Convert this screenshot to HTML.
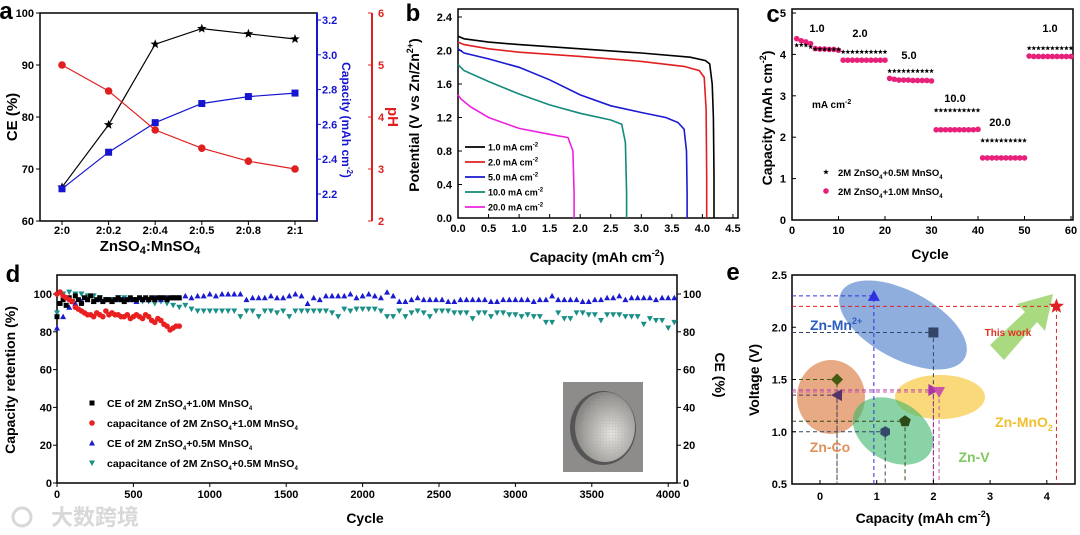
<!DOCTYPE html>
<html><head><meta charset="utf-8"><style>
html,body{margin:0;padding:0;background:#fff;}
svg{display:block;font-family:"Liberation Sans","Noto Sans CJK SC",sans-serif;font-weight:bold;}
</style></head><body>
<svg id="fig" width="1080" height="535" viewBox="0 0 1080 535" xmlns="http://www.w3.org/2000/svg">
<defs>
<radialGradient id="coinG" cx="0.6" cy="0.6" r="0.6"><stop offset="0" stop-color="#e8e6e2"/><stop offset="1" stop-color="#8a8884"/></radialGradient>
<pattern id="grid" width="3" height="3" patternUnits="userSpaceOnUse"><rect width="3" height="3" fill="none"/><path d="M0 0H3M0 0V3" stroke="#aaa" stroke-width="0.5"/></pattern>
</defs>
</svg>
<script>
// ---------- Panel a data ----------
const aCategories=["2:0","2:0.2","2:0.4","2:0.5","2:0.8","2:1"];
const aCE=[66.5,78.5,94,97,96,95];
const aCapacity=[2.23,2.44,2.61,2.72,2.76,2.78];
const aPH=[5.0,4.5,3.75,3.4,3.15,3.0];
const aCETicks=[60,70,80,90,100];
const aCapTicks=["2.2","2.4","2.6","2.8","3.0","3.2"];
const aPHTicks=[2,3,4,5,6];
// ---------- Panel b data ----------
const bLabels=["1.0 mA cm","2.0 mA cm","5.0 mA cm","10.0 mA cm","20.0 mA cm"];
const bCap1=[0,0.1,0.5,1.0,2.0,3.0,3.8,4.05,4.12,4.16,4.18,4.19,4.19];
const bV1=[2.17,2.14,2.1,2.07,2.02,1.97,1.92,1.88,1.84,1.6,1.2,0.5,0];
const bCap2=[0,0.1,0.5,1.0,2.0,3.0,3.7,3.95,4.03,4.06,4.07,4.07];
const bV2=[2.1,2.07,2.02,1.98,1.93,1.87,1.81,1.76,1.68,1.3,0.5,0];
const bCap5=[0,0.1,0.5,1.0,1.5,2.0,2.5,3.0,3.4,3.6,3.7,3.74,3.75,3.75];
const bV5=[2.02,1.97,1.9,1.8,1.65,1.47,1.34,1.26,1.2,1.14,1.06,0.8,0.3,0];
const bCap10=[0,0.1,0.5,1.0,1.5,2.0,2.5,2.68,2.74,2.76,2.76];
const bV10=[1.83,1.76,1.63,1.48,1.35,1.25,1.17,1.12,0.9,0.3,0];
const bCap20=[0,0.05,0.2,0.5,1.0,1.5,1.8,1.88,1.9,1.9];
const bV20=[1.47,1.42,1.33,1.2,1.07,1.0,0.96,0.8,0.3,0];
const bXTicks=["0.0","0.5","1.0","1.5","2.0","2.5","3.0","3.5","4.0","4.5"];
const bYTicks=["0.0","0.4","0.8","1.2","1.6","2.0","2.4"];
// ---------- Panel c data ----------
const cCycles=[1,2,3,4,5,6,7,8,9,10,11,12,13,14,15,16,17,18,19,20,21,22,23,24,25,26,27,28,29,30,31,32,33,34,35,36,37,38,39,40,41,42,43,44,45,46,47,48,49,50,51,52,53,54,55,56,57,58,59,60];
const cStar=[4.22,4.23,4.22,4.18,4.13,4.13,4.12,4.12,4.12,4.12,4.06,4.06,4.06,4.06,4.06,4.06,4.06,4.06,4.06,4.06,3.6,3.6,3.6,3.6,3.6,3.6,3.6,3.6,3.6,3.6,2.65,2.65,2.65,2.65,2.65,2.65,2.65,2.65,2.65,2.65,1.92,1.92,1.92,1.92,1.92,1.92,1.92,1.92,1.92,1.92,4.15,4.15,4.15,4.15,4.15,4.15,4.15,4.15,4.15,4.15];
const cPink=[4.38,4.33,4.3,4.26,4.14,4.13,4.13,4.12,4.12,4.1,3.86,3.86,3.86,3.86,3.86,3.86,3.86,3.86,3.86,3.86,3.42,3.4,3.38,3.38,3.38,3.37,3.37,3.37,3.37,3.36,2.18,2.18,2.18,2.18,2.18,2.18,2.18,2.18,2.18,2.19,1.5,1.5,1.5,1.5,1.5,1.5,1.5,1.5,1.5,1.5,3.96,3.95,3.95,3.95,3.95,3.95,3.95,3.95,3.95,3.95];
const cRateLabels=["1.0","2.0","5.0","10.0","20.0","1.0"];
const cXTicks=[0,10,20,30,40,50,60];
const cYTicks=[0,1,2,3,4,5];
// ---------- Panel d data ----------
const dBlackCycles=[0,20,40,60,80,100,120,140,160,180,200,220,240,260,280,300,320,340,360,380,400,420,440,460,480,500,520,540,560,580,600,620,640,660,680,700,720,740,760,780,800];
const dBlack=[88,95,97,94,98,96,99,97,95,98,97,99,96,97,98,96,97,97,96,97,98,97,96,97,98,97,97,98,97,98,97,98,97,98,98,98,97,98,98,98,98];
const dRed=[100,101,99,98,97,96,93,92,91,90,89,89,88,90,89,88,91,89,90,89,89,88,88,89,87,88,89,88,87,89,88,86,85,87,86,84,83,81,82,83,83];
const dBlueCycles=[0,40,80,120,160,200,240,280,320,360,400,440,480,520,560,600,640,680,720,760,800,840,880,920,960,1000,1040,1080,1120,1160,1200,1240,1280,1320,1360,1400,1440,1480,1520,1560,1600,1640,1680,1720,1760,1800,1840,1880,1920,1960,2000,2040,2080,2120,2160,2200,2240,2280,2320,2360,2400,2440,2480,2520,2560,2600,2640,2680,2720,2760,2800,2840,2880,2920,2960,3000,3040,3080,3120,3160,3200,3240,3280,3320,3360,3400,3440,3480,3520,3560,3600,3640,3680,3720,3760,3800,3840,3880,3920,3960,4000,4040];
const dBlue=[82,88,93,95,96,97,96,97,97,96,97,97,97,96,97,97,98,97,98,98,98,99,98,99,99,100,99,100,100,100,100,97,98,98,98,99,98,98,99,100,99,95,98,97,99,99,99,99,100,98,99,100,99,98,101,99,96,96,97,98,97,97,97,97,96,96,97,97,97,97,97,96,96,97,97,97,97,97,96,97,97,99,97,97,97,97,96,96,97,97,98,98,99,97,98,98,98,98,97,98,98,98];
const dTeal=[90,100,101,100,100,99,99,98,97,97,98,98,97,97,96,96,95,96,95,94,93,94,92,91,91,91,91,91,91,91,88,91,91,88,91,91,90,91,88,91,91,91,91,91,91,90,88,92,91,92,92,92,92,91,88,88,91,88,90,91,90,88,91,91,91,90,90,90,87,90,90,88,90,90,89,89,88,89,88,88,85,85,90,87,87,90,90,89,89,86,89,89,89,88,88,88,84,87,86,86,82,85];
const dXTicks=[0,500,1000,1500,2000,2500,3000,3500,4000];
const dYTicks=[0,20,40,60,80,100];
// ---------- Panel e data ----------
const eCapacity=[0.95,2.0,0.3,0.3,1.15,1.5,2.0,2.1,4.17];
const eVoltage=[2.3,1.95,1.5,1.35,1.0,1.1,1.4,1.38,2.2];
const eXTicks=[0,1,2,3,4];
const eYTicks=["0.5","1.0","1.5","2.0","2.5"];

const svg=document.getElementById('fig');
const NS='http://www.w3.org/2000/svg';
function mk(tag,attrs,parent){const e=document.createElementNS(NS,tag);for(const k in attrs)e.setAttribute(k,attrs[k]);(parent||svg).appendChild(e);return e;}
function tx(x,y,s,size,anchor,fill){const e=mk('text',{x:x,y:y,'font-size':size,'text-anchor':anchor||'middle',fill:fill||'#000'});e.textContent=s;return e;}
function starPath(cx,cy,r){let d='';for(let i=0;i<10;i++){const rr=i%2?r*0.42:r;const a=-Math.PI/2+i*Math.PI/5;d+=(i?'L':'M')+(cx+rr*Math.cos(a)).toFixed(1)+' '+(cy+rr*Math.sin(a)).toFixed(1);}return d+'Z';}
function polyPath(cx,cy,r,n,rot){let d='';for(let i=0;i<n;i++){const a=rot+i*2*Math.PI/n;d+=(i?'L':'M')+(cx+r*Math.cos(a)).toFixed(1)+' '+(cy+r*Math.sin(a)).toFixed(1);}return d+'Z';}
function linePath(xs,ys,fx,fy){return xs.map((v,i)=>(i?'L':'M')+fx(v).toFixed(1)+' '+fy(ys[i]).toFixed(1)).join('');}
let el;

// ================= PANEL A =================
const xA=i=>62+i*46.6, yCE=v=>221-(v-60)*5.2, yCap=v=>194-(v-2.2)*174, yPH=v=>221-(v-2)*52;
el=tx(6,19,'a',24,'middle');


el=mk('rect',{x:40,y:13,width:277,height:208,fill:'none',stroke:'#000','stroke-width':1.5});


el=mk('line',{x1:317,y1:13,x2:317,y2:221,stroke:'#1515d0','stroke-width':2});


el=mk('line',{x1:372,y1:13,x2:372,y2:221,stroke:'#e02020','stroke-width':2});


aCETicks.forEach(v=>{
  el=tx(34,yCE(v)+4,String(v),11,'end');
  
  
  mk('line',{x1:36,y1:yCE(v),x2:40,y2:yCE(v),stroke:'#000'});
});
aCapTicks.forEach(s=>{
  const v=parseFloat(s);
  el=tx(322,yCap(v)+4,s,11,'start','#1515d0');
  
  
  mk('line',{x1:317,y1:yCap(v),x2:321,y2:yCap(v),stroke:'#1515d0'});
});
aPHTicks.forEach(v=>{
  el=tx(378,yPH(v)+4,String(v),11,'start','#e02020');
  
  
  mk('line',{x1:368,y1:yPH(v),x2:372,y2:yPH(v),stroke:'#e02020'});
});
aCategories.forEach((c,i)=>{
  el=tx(xA(i),234,c,11);
  
  
  mk('line',{x1:xA(i),y1:221,x2:xA(i),y2:225,stroke:'#000'});
});
el=mk('text',{x:150,y:251,'font-size':15,'text-anchor':'middle'});
el.innerHTML='ZnSO<tspan font-size="11" dy="3">4</tspan><tspan dy="-3">:MnSO</tspan><tspan font-size="11" dy="3">4</tspan>';


el=mk('text',{x:0,y:0,'font-size':15,'text-anchor':'middle',transform:'translate(17,117) rotate(-90)'});
el.textContent='CE (%)';


el=mk('text',{x:0,y:0,'font-size':12,'text-anchor':'middle',fill:'#1515d0',transform:'translate(342,120) rotate(90)'});
el.innerHTML='Capacity (mAh cm<tspan font-size="8" dy="-5">-2</tspan><tspan dy="5">)</tspan>';


el=mk('text',{x:0,y:0,'font-size':15,'text-anchor':'middle',fill:'#e02020',transform:'translate(388,117) rotate(90)'});
el.textContent='pH';


el=mk('path',{d:linePath(aCE.map((v,i)=>i),aCE,xA,yCE),fill:'none',stroke:'#000','stroke-width':1.2});


el=mk('path',{d:linePath(aCapacity.map((v,i)=>i),aCapacity,xA,yCap),fill:'none',stroke:'#1515d0','stroke-width':1.2});


el=mk('path',{d:linePath(aPH.map((v,i)=>i),aPH,xA,yPH),fill:'none',stroke:'#e02020','stroke-width':1.2});


aCE.forEach((v,i)=>{
  el=mk('path',{d:starPath(xA(i),yCE(v),5),fill:'#000'});
  
  
});
aCapacity.forEach((v,i)=>{
  el=mk('rect',{x:xA(i)-3.5,y:yCap(v)-3.5,width:7,height:7,fill:'#1515d0'});
  
  
});
aPH.forEach((v,i)=>{
  el=mk('circle',{cx:xA(i),cy:yPH(v),r:3.8,fill:'#e02020'});
  
  
});

// ================= PANEL B =================
const xB=c=>458+c*61.1, yB=v=>218-v*83.75;
el=tx(413,21,'b',24);


el=mk('rect',{x:458,y:9,width:280,height:209,fill:'none',stroke:'#000','stroke-width':1.5});


bXTicks.forEach(s=>{
  const v=parseFloat(s);
  el=tx(xB(v),232,s,11);
  
  
  mk('line',{x1:xB(v),y1:218,x2:xB(v),y2:214,stroke:'#000'});
});
bYTicks.forEach(s=>{
  const v=parseFloat(s);
  el=tx(452,yB(v)+4,s,11,'end');
  
  
  mk('line',{x1:458,y1:yB(v),x2:462,y2:yB(v),stroke:'#000'});
});
el=mk('text',{x:597,y:262,'font-size':14,'text-anchor':'middle'});
el.innerHTML='Capacity (mAh cm<tspan font-size="9" dy="-6">-2</tspan><tspan dy="6">)</tspan>';


el=mk('text',{x:0,y:0,'font-size':14,'text-anchor':'middle',transform:'translate(419,115) rotate(-90)'});
el.innerHTML='Potential (V vs Zn/Zn<tspan font-size="9" dy="-6">2+</tspan><tspan dy="6">)</tspan>';


const bSeries=[[bCap1,bV1,'#000'],[bCap2,bV2,'#e02020'],[bCap5,bV5,'#1a1ad0'],[bCap10,bV10,'#138a7a'],[bCap20,bV20,'#ee22dd']];
bSeries.forEach((s,i)=>{
  el=mk('path',{d:linePath(s[0],s[1],xB,yB),fill:'none',stroke:s[2],'stroke-width':1.6});
  
  
  const ly=147+i*15;
  el=mk('line',{x1:465,y1:ly,x2:485,y2:ly,stroke:s[2],'stroke-width':1.8});
  
  
  el=mk('text',{x:488,y:ly+3.5,'font-size':9});
  el.innerHTML=bLabels[i]+'<tspan font-size="6" dy="-4">-2</tspan>';
  
  
});

// ================= PANEL C =================
const xC=n=>792+n*4.65, yC=v=>220-v*41.4;
el=tx(773,22,'c',24);


el=mk('rect',{x:792,y:9,width:281,height:211,fill:'none',stroke:'#000','stroke-width':1.5});


cXTicks.forEach(v=>{
  el=tx(xC(v),234,String(v),11);
  
  
  mk('line',{x1:xC(v),y1:220,x2:xC(v),y2:216,stroke:'#000'});
});
cYTicks.forEach(v=>{
  el=tx(786,yC(v)+4,String(v),11,'end');
  
  
  mk('line',{x1:792,y1:yC(v),x2:796,y2:yC(v),stroke:'#000'});
});
el=tx(930,259,'Cycle',14);


el=mk('text',{x:0,y:0,'font-size':14,'text-anchor':'middle',transform:'translate(772,118) rotate(-90)'});
el.innerHTML='Capacity (mAh cm<tspan font-size="9" dy="-6">-2</tspan><tspan dy="6">)</tspan>';


cCycles.forEach((n,i)=>{
  el=mk('circle',{cx:xC(n),cy:yC(cPink[i]),r:2.8,fill:'#e8207a'});
  
  
});
cCycles.forEach((n,i)=>{
  el=mk('path',{d:starPath(xC(n),yC(cStar[i]),2.6),fill:'#000'});
  
  
});
const cLabelPos=[[817,32],[860,37],[909,59],[955,102],[1000,126],[1050,32]];
cRateLabels.forEach((s,i)=>{
  el=tx(cLabelPos[i][0],cLabelPos[i][1],s,11);
  
  
});
el=mk('text',{x:812,y:108,'font-size':10});
el.innerHTML='mA cm<tspan font-size="7" dy="-4">-2</tspan>';


el=mk('path',{d:starPath(826,172,3),fill:'#000'});


el=mk('text',{x:838,y:176,'font-size':9.5});
el.innerHTML='2M ZnSO<tspan font-size="6" dy="3">4</tspan><tspan dy="-3">+0.5M MnSO</tspan><tspan font-size="6" dy="3">4</tspan>';


el=mk('circle',{cx:826,cy:191,r:2.8,fill:'#e8207a'});


el=mk('text',{x:838,y:195,'font-size':9.5});
el.innerHTML='2M ZnSO<tspan font-size="6" dy="3">4</tspan><tspan dy="-3">+1.0M MnSO</tspan><tspan font-size="6" dy="3">4</tspan>';



// ================= PANEL D =================
const xD=n=>57+n*0.1528, yD=v=>483-v*1.89;
el=tx(13,282,'d',24);


el=mk('rect',{x:57,y:275,width:620,height:208,fill:'none',stroke:'#000','stroke-width':1.5});


dXTicks.forEach(v=>{
  el=tx(xD(v),498,String(v),11);
  
  
  mk('line',{x1:xD(v),y1:483,x2:xD(v),y2:487,stroke:'#000'});
});
dYTicks.forEach(v=>{
  el=tx(52,yD(v)+4,String(v),11,'end');
  
  
  mk('line',{x1:53,y1:yD(v),x2:57,y2:yD(v),stroke:'#000'});
  el=tx(683,yD(v)+4,String(v),11,'start');
  
  
  mk('line',{x1:677,y1:yD(v),x2:681,y2:yD(v),stroke:'#000'});
});
el=tx(365,523,'Cycle',14);


el=mk('text',{x:0,y:0,'font-size':14,'text-anchor':'middle',transform:'translate(15,380) rotate(-90)'});
el.textContent='Capacity retention (%)';


el=mk('text',{x:0,y:0,'font-size':14,'text-anchor':'middle',transform:'translate(715,375) rotate(90)'});
el.textContent='CE (%)';


dBlueCycles.forEach((n,i)=>{
  const x=xD(n),y=yD(dTeal[i]);
  el=mk('path',{d:`M${x-3} ${y-2.5}L${x+3} ${y-2.5}L${x} ${y+3}Z`,fill:'#1a8f87'});
  
  
});
dBlueCycles.forEach((n,i)=>{
  const x=xD(n),y=yD(dBlue[i]);
  el=mk('path',{d:`M${x-3} ${y+2.5}L${x+3} ${y+2.5}L${x} ${y-3}Z`,fill:'#1a1ad0'});
  
  
});
dBlackCycles.forEach((n,i)=>{
  el=mk('rect',{x:xD(n)-2.5,y:yD(dBlack[i])-2.5,width:5,height:5,fill:'#000'});
  
  
});
dBlackCycles.forEach((n,i)=>{
  el=mk('circle',{cx:xD(n),cy:yD(dRed[i]),r:2.8,fill:'#e82020'});
  
  
});
const dLeg=[['CE of 2M ZnSO','+1.0M MnSO','#000','sq'],['capacitance of 2M ZnSO','+1.0M MnSO','#e82020','ci'],['CE of 2M ZnSO','+0.5M MnSO','#1a1ad0','up'],['capacitance of 2M ZnSO','+0.5M MnSO','#1a8f87','dn']];
dLeg.forEach((l,i)=>{
  const y=403+i*20,x=92;
  let d;
  if(l[3]==='sq')d=`M${x-2.5} ${y-2.5}h5v5h-5Z`;
  else if(l[3]==='ci')d=`M${x-2.8} ${y}a2.8 2.8 0 1 0 5.6 0a2.8 2.8 0 1 0 -5.6 0`;
  else if(l[3]==='up')d=`M${x-3} ${y+2.5}L${x+3} ${y+2.5}L${x} ${y-3}Z`;
  else d=`M${x-3} ${y-2.5}L${x+3} ${y-2.5}L${x} ${y+3}Z`;
  el=mk('path',{d:d,fill:l[2]});
  
  
  el=mk('text',{x:107,y:y+4,'font-size':10.5});
  el.innerHTML=l[0]+'<tspan font-size="6" dy="3">4</tspan><tspan dy="-3">'+l[1]+'</tspan><tspan font-size="6" dy="3">4</tspan>';
  
  
});
el=mk('rect',{x:563,y:382,width:80,height:90,fill:'#8d8c8a'});


mk('ellipse',{cx:603,cy:428,rx:33,ry:37,fill:'#555'});
el=mk('ellipse',{cx:605,cy:427,rx:30,ry:35,fill:'url(#coinG)'});


mk('ellipse',{cx:607,cy:426,rx:25,ry:31,fill:'url(#grid)',opacity:0.6});
el=tx(95,525,'大数跨境',22,'middle','#d8d8d8');


el=mk('circle',{cx:22,cy:517,r:9,fill:'none',stroke:'#d8d8d8','stroke-width':3});



// ================= PANEL E =================
const xE=c=>820+c*56.7, yE=v=>484-(v-0.5)*104.5;
el=tx(733,280,'e',24);


el=mk('ellipse',{cx:903,cy:325,rx:70,ry:34,fill:'#4a7cc9',opacity:0.62,transform:'rotate(28 903 325)'});


el=mk('ellipse',{cx:831,cy:397,rx:34,ry:37,fill:'#d9763a',opacity:0.62});


el=mk('ellipse',{cx:940,cy:397,rx:45,ry:22,fill:'#f8c532',opacity:0.65});


el=mk('ellipse',{cx:893,cy:431,rx:43,ry:30,fill:'#3cb56a',opacity:0.6,transform:'rotate(30 893 431)'});


el=mk('path',{d:'M990 345L1025 312L1017 304L1053 294L1045 331L1037 322L1004 360Z',fill:'#9bd46a',opacity:0.85});


el=mk('rect',{x:792,y:275,width:283,height:209,fill:'none',stroke:'#000','stroke-width':1.5});


const eColors=['#3030e0','#334466','#445a10','#553366','#334a6a','#2d4a18','#aa33aa','#cc55aa','#e02020'];
const eShapes=['up','sq','dia','left','hex','pent','tri','dn','star'];
eCapacity.forEach((c,i)=>{
  const x=xE(c),y=yE(eVoltage[i]);
  el=mk('path',{d:`M792 ${y}H${x}V484`,fill:'none',stroke:eColors[i],'stroke-width':1,'stroke-dasharray':'4 3'});
  
  
});
eCapacity.forEach((c,i)=>{
  const x=xE(c),y=yE(eVoltage[i]);let d;const s=eShapes[i];
  if(s==='up')d=`M${x-6} ${y+5}L${x+6} ${y+5}L${x} ${y-6}Z`;
  else if(s==='dn')d=`M${x-6} ${y-5}L${x+6} ${y-5}L${x} ${y+6}Z`;
  else if(s==='sq')d=`M${x-5} ${y-5}h10v10h-10Z`;
  else if(s==='dia')d=polyPath(x,y,6,4,0);
  else if(s==='left')d=`M${x+5} ${y-6}L${x+5} ${y+6}L${x-6} ${y}Z`;
  else if(s==='tri')d=`M${x-5} ${y-6}L${x-5} ${y+6}L${x+6} ${y}Z`;
  else if(s==='hex')d=polyPath(x,y,5.5,6,Math.PI/6);
  else if(s==='pent')d=polyPath(x,y,6,5,-Math.PI/2);
  else d=starPath(x,y,8);
  el=mk('path',{d:d,fill:eColors[i]});
  
  
});
eXTicks.forEach(v=>{
  el=tx(xE(v),500,String(v),11);
  
  
  mk('line',{x1:xE(v),y1:484,x2:xE(v),y2:480,stroke:'#000'});
});
eYTicks.forEach(s=>{
  const v=parseFloat(s);
  el=tx(787,yE(v)+4,s,11,'end');
  
  
  mk('line',{x1:792,y1:yE(v),x2:796,y2:yE(v),stroke:'#000'});
});
el=mk('text',{x:923,y:523,'font-size':14,'text-anchor':'middle'});
el.innerHTML='Capacity (mAh cm<tspan font-size="9" dy="-6">-2</tspan><tspan dy="6">)</tspan>';


el=mk('text',{x:0,y:0,'font-size':14,'text-anchor':'middle',transform:'translate(759,380) rotate(-90)'});
el.textContent='Voltage (V)';


el=mk('text',{x:810,y:330,'font-size':14,fill:'#2a5cc0'});
el.innerHTML='Zn-Mn<tspan font-size="9" dy="-6">2+</tspan>';


el=tx(1008,336,'This work',10,'middle','#e03020');


el=tx(830,452,'Zn-Co',14,'middle','#e0905a');


el=mk('text',{x:1024,y:427,'font-size':14,'text-anchor':'middle',fill:'#f0c030'});
el.innerHTML='Zn-MnO<tspan font-size="9" dy="4">2</tspan>';


el=tx(974,462,'Zn-V',14,'middle','#80c860');


</script>
</body></html>
